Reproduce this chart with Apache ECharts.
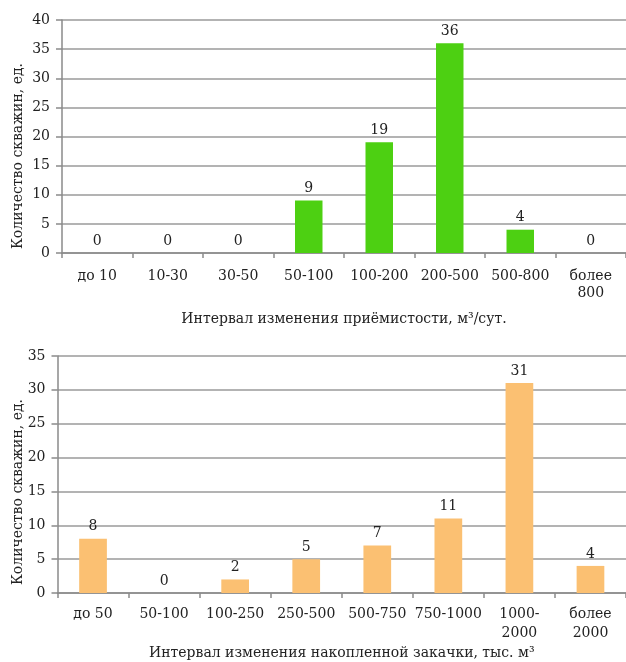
<!DOCTYPE html>
<html><head><meta charset="utf-8">
<script src="https://cdn.jsdelivr.net/npm/echarts@6/dist/echarts.min.js"></script>
<style>html,body{margin:0;padding:0;background:#fff;}#c{width:626px;height:662px;}</style>
</head><body><div id="c"></div>
<script>
const cats1 = ['до 10','10-30','30-50','50-100','100-200','200-500','500-800','более\n800'];
const vals1 = [0,0,0,9,19,36,4,0];
const cats2 = ['до 50','50-100','100-250','250-500','500-750','750-1000','1000-\n2000','более\n2000'];
const vals2 = [8,0,2,5,7,11,31,4];
const yTitle = 'Количество скважин, ед.';
const xTitle1 = 'Интервал изменения приёмистости, м³/сут.';
const xTitle2 = 'Интервал изменения накопленной закачки, тыс. м³';

const FONT = 'DejaVu Serif';
const FS = 14;
const TXT = '#222';
const AX = '#8a8a8a';

function yAxis(gi, max) {
  return {
    type:'value', gridIndex:gi, min:0, max:max, interval:5,
    axisLine:{show:true, lineStyle:{color:AX, width:1.5}},
    axisTick:{show:true, length:6, lineStyle:{color:AX, width:1.5}},
    axisLabel:{color:TXT, fontFamily:FONT, fontSize:FS, margin:12},
    splitLine:{lineStyle:{color:'#9a9a9a', width:1.6}}
  };
}
function xAxis(gi, cats, name, gap, lh, margin) {
  return {
    type:'category', gridIndex:gi, data:cats,
    axisLine:{show:true, lineStyle:{color:AX, width:1.5}},
    axisTick:{show:true, length:5, alignWithLabel:false, lineStyle:{color:AX, width:1.5}},
    axisLabel:{color:TXT, fontFamily:FONT, fontSize:FS, margin:margin, lineHeight:lh, interval:0},
    name:name, nameLocation:'middle', nameGap:gap,
    nameTextStyle:{color:TXT, fontFamily:FONT, fontSize:14}
  };
}
function bar(gi, vals, color) {
  return {
    type:'bar', xAxisIndex:gi, yAxisIndex:gi, data:vals, barWidth:'39%',
    itemStyle:{color:color},
    label:{show:true, position:'top', distance:5, color:TXT, fontFamily:FONT, fontSize:FS},
    silent:true, animation:false
  };
}
const chart = echarts.init(document.getElementById('c'), null, {renderer:'canvas'});
chart.setOption({
  animation:false,
  grid:[
    {left:62, top:20, right:-10, height:233},
    {left:57.5, top:356, right:-9.5, height:237}
  ],
  xAxis:[ xAxis(0, cats1, xTitle1, 59, 17, 15), xAxis(1, cats2, xTitle2, 53, 19, 12) ],
  yAxis:[ yAxis(0, 40), yAxis(1, 35) ],
  series:[ bar(0, vals1, '#4dd012'), bar(1, vals2, '#fbc072') ],
  graphic:[
    {type:'text', x:18, y:156, rotation:Math.PI/2,
     style:{text:yTitle, fill:TXT, font:'14px "'+FONT+'"', textAlign:'center', textVerticalAlign:'middle'}},
    {type:'text', x:18, y:492, rotation:Math.PI/2,
     style:{text:yTitle, fill:TXT, font:'14px "'+FONT+'"', textAlign:'center', textVerticalAlign:'middle'}}
  ]
});
</script></body></html>
